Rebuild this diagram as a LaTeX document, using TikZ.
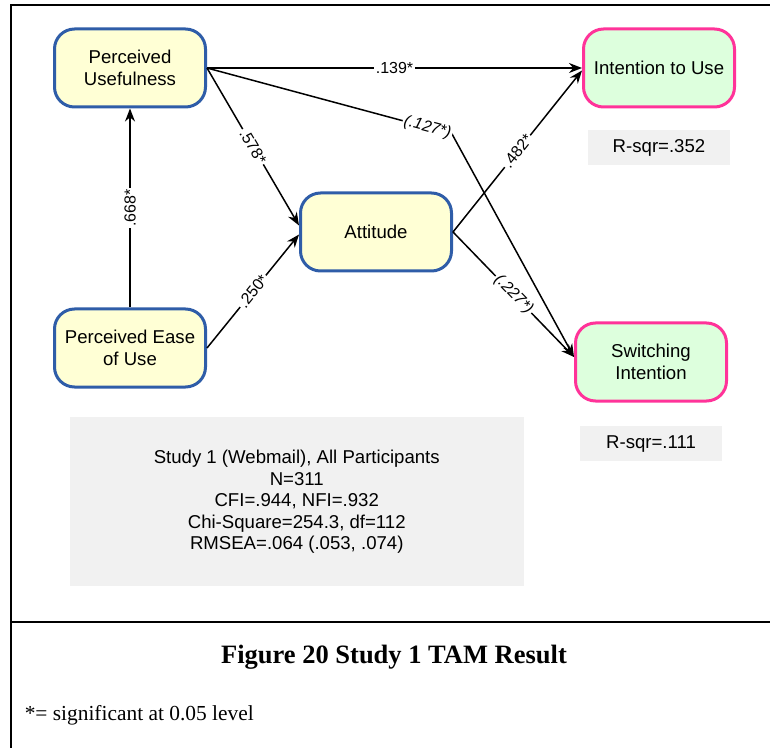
\documentclass[tikz,border=0pt]{standalone}
\usepackage{fontspec}
\setmainfont{Liberation Serif}
\setsansfont{Liberation Sans}
\usetikzlibrary{arrows.meta, positioning}

\definecolor{tamblue}{RGB}{47,93,168}
\definecolor{tamyellow}{RGB}{255,255,213}
\definecolor{tampink}{RGB}{255,51,153}
\definecolor{tamgreen}{RGB}{221,255,221}
\definecolor{tamgray}{RGB}{241,241,241}

\begin{document}
\begin{tikzpicture}[x=0.5pt, y=-0.5pt,
    node distance=10pt and 10pt,
    line width=0.75pt,
    construct/.style = {rectangle, draw=tamblue, line width=1.5pt, fill=tamyellow, rounded corners=10pt, minimum width=75.5pt, minimum height=39pt, align=center, font = \sffamily\fontsize{9.3}{11}\selectfont},
    outcome/.style = {construct, draw=tampink, fill=tamgreen},
    rsq/.style = {rectangle, fill=tamgray, minimum width=71pt, minimum height=17.5pt, font = \sffamily\fontsize{9.3}{11}\selectfont},
    coef/.style = {fill=white, inner sep=0.8pt, sloped, font = \sffamily\fontsize{8}{9.6}\selectfont},
    >={Stealth[length=6.5pt,width=5pt]}]

\useasboundingbox (0,0) rectangle (770,748);

% frame
\draw[line width=1pt] (11,748) -- (11,5) -- (770,5);
\draw[line width=1pt] (11,622) -- (770,622);

\node[construct] (PU) at (130,68) {Perceived\\Usefulness};
\node[construct, below=99.5pt of PU] (PEOU) {Perceived Ease\\of Use};
\node[construct, below right=41.5pt and 46pt of PU] (ATT) {Attitude};
\node[outcome, right=187.5pt of PU] (IU) {Intention to Use};
\node[outcome, below right=24.5pt and 60.5pt of ATT] (SI) {Switching\\Intention};
\node[rsq, below=10.5pt of IU] (R1) {R-sqr=.352};
\node[rsq, below=11.5pt of SI] (R2) {R-sqr=.111};
\node[rectangle, fill=tamgray, minimum width=227pt, minimum height=84.5pt, align=center, anchor=north west,
  font = \sffamily\fontsize{9.3}{10.75}\selectfont,
  below right=14pt and 8pt of PEOU.south west] (FIT) {Study 1 (Webmail), All Participants\\N=311\\CFI=.944, NFI=.932\\Chi-Square=254.3, df=112\\RMSEA=.064 (.053, .074)};

\node[font=\bfseries\fontsize{13.25}{15}\selectfont] (CAP) at (394,657) {Figure 20 Study 1 TAM Result};
\node[anchor=west, inner sep=0pt, font=\fontsize{10.7}{12}\selectfont] (NOTE) at (24,715) {*= significant at 0.05 level};

\coordinate (bend) at (452,134);

%connectors
\draw[->] (PEOU) -- node[coef] {.668*} (PU);
\draw[->] (PU.east) -- node[coef] {.578*} ([yshift=3.25pt]ATT.west);
\draw[->] (PEOU.east) -- node[coef] {.250*} ([yshift=-1.25pt]ATT.west);
\draw[->] (PU.east) -- node[coef] {.139*} (IU.west);
\draw[->] (PU.east) -- node[coef, pos=0.9] {\itshape(.127*)} (bend) -- ([yshift=2.5pt]SI.west);
\draw[->] (ATT.east) -- node[coef] {.482*} ([yshift=-1.25pt]IU.west);
\draw[->] (ATT.east) -- node[coef] {\itshape(.227*)} ([yshift=2.5pt]SI.west);
\end{tikzpicture}
\end{document}
